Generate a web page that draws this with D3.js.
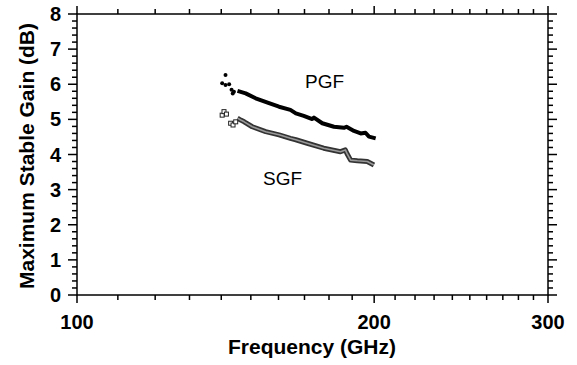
<!DOCTYPE html>
<html>
<head>
<meta charset="utf-8">
<script src="https://cdn.jsdelivr.net/npm/d3@7"></script>
<style>
  body { margin: 0; background: #fff; }
  svg { display: block; font-family: "Liberation Sans", Arial, sans-serif; }
  .tick-label { font-size: 20px; font-weight: bold; }
  .axis-title { font-size: 21px; font-weight: bold; }
  .series-label { font-size: 19px; }
</style>
</head>
<body>
<div id="chart"></div>
<script>
// frequency (GHz), maximum stable gain (dB)
var pgfScatter = [[140.3, 6.03], [141.4, 5.98], [141.4, 6.26], [142.6, 6.00],
                  [143.4, 5.84], [144.2, 5.79], [143.8, 5.74]];
var pgfTrace = [[145.4, 5.81], [148.2, 5.74], [151.7, 5.60], [156.5, 5.46],
                [160.2, 5.36], [164.5, 5.27], [166.6, 5.17], [169.7, 5.10],
                [173.1, 5.01], [173.8, 5.05], [177.2, 4.89], [182.1, 4.79],
                [186.4, 4.76], [187.5, 4.79], [190.8, 4.67], [193.8, 4.60],
                [196.0, 4.62], [197.6, 4.51], [200.7, 4.46]];
var sgfScatter = [[140.3, 5.12], [140.9, 5.22], [141.7, 5.15], [143.1, 4.89],
                  [143.9, 4.84], [144.8, 4.93]];
var sgfTrace = [[145.4, 5.03], [146.5, 4.98], [147.7, 4.93], [150.5, 4.79],
                [155.3, 4.65], [160.2, 4.56], [164.5, 4.46], [166.6, 4.42],
                [171.1, 4.32], [177.8, 4.18], [184.9, 4.08], [187.0, 4.13],
                [187.7, 4.03], [189.3, 3.84], [192.3, 3.82], [196.8, 3.80],
                [199.9, 3.70]];

var xMajor = [100, 200, 300];
var xMinor = d3.range(110, 300, 10).filter(function(v) { return v !== 200; });
var yMajor = d3.range(0, 9, 1);
var yMinor = d3.range(0, 8.01, 0.2).filter(function(v) { return Math.abs(v - Math.round(v)) > 0.01; });

var width = 577, height = 365;
var plotL = 77, plotR = 548, plotT = 14, plotB = 295;

var svg = d3.select("#chart").append("svg")
    .attr("width", width)
    .attr("height", height);

var x = d3.scaleLog().domain([100, 300]).range([plotL, plotR]);
var y = d3.scaleLinear().domain([0, 8]).range([plotB, plotT]);

// frame
svg.append("rect")
    .attr("x", plotL).attr("y", plotT)
    .attr("width", plotR - plotL).attr("height", plotB - plotT)
    .attr("fill", "none").attr("stroke", "#000").attr("stroke-width", 1.5);

// ticks on all four sides, pointing outward
function xTicks(vals, len) {
    svg.selectAll(null).data(vals).enter().append("line")
        .attr("x1", function(d) { return x(d); }).attr("x2", function(d) { return x(d); })
        .attr("y1", plotB).attr("y2", plotB + len)
        .attr("stroke", "#000").attr("stroke-width", 1.5);
    svg.selectAll(null).data(vals).enter().append("line")
        .attr("x1", function(d) { return x(d); }).attr("x2", function(d) { return x(d); })
        .attr("y1", plotT).attr("y2", plotT - len)
        .attr("stroke", "#000").attr("stroke-width", 1.5);
}
function yTicks(vals, len) {
    svg.selectAll(null).data(vals).enter().append("line")
        .attr("y1", function(d) { return y(d); }).attr("y2", function(d) { return y(d); })
        .attr("x1", plotL).attr("x2", plotL - len)
        .attr("stroke", "#000").attr("stroke-width", 1.5);
    svg.selectAll(null).data(vals).enter().append("line")
        .attr("y1", function(d) { return y(d); }).attr("y2", function(d) { return y(d); })
        .attr("x1", plotR).attr("x2", plotR + len)
        .attr("stroke", "#000").attr("stroke-width", 1.5);
}
xTicks(xMajor, 8);
xTicks(xMinor, 5);
yTicks(yMajor, 9);
yTicks(yMinor, 5);

// tick labels
svg.selectAll(null).data(xMajor).enter().append("text")
    .attr("class", "tick-label")
    .attr("x", function(d) { return x(d); })
    .attr("y", 329)
    .attr("text-anchor", "middle")
    .text(function(d) { return d; });

svg.selectAll(null).data(yMajor).enter().append("text")
    .attr("class", "tick-label")
    .attr("x", 61)
    .attr("y", function(d) { return y(d) + 7; })
    .attr("text-anchor", "end")
    .text(function(d) { return d; });

// axis titles
svg.append("text").attr("class", "axis-title")
    .attr("x", 312).attr("y", 354)
    .attr("text-anchor", "middle")
    .text("Frequency (GHz)");

svg.append("text").attr("class", "axis-title")
    .attr("transform", "translate(34,156) rotate(-90)")
    .attr("text-anchor", "middle")
    .text("Maximum Stable Gain (dB)");

var line = d3.line()
    .x(function(d) { return x(d[0]); })
    .y(function(d) { return y(d[1]); });

// SGF: band of open squares
svg.append("path").datum(sgfTrace)
    .attr("d", line).attr("fill", "none")
    .attr("stroke", "#333").attr("stroke-width", 5)
    .attr("stroke-linejoin", "round");
svg.append("path").datum(sgfTrace)
    .attr("d", line).attr("fill", "none")
    .attr("stroke", "#999").attr("stroke-width", 1.6)
    .attr("stroke-linejoin", "round");
svg.selectAll(null).data(sgfScatter).enter().append("rect")
    .attr("x", function(d) { return x(d[0]) - 2; })
    .attr("y", function(d) { return y(d[1]) - 2; })
    .attr("width", 4).attr("height", 4)
    .attr("fill", "#fff").attr("stroke", "#222").attr("stroke-width", 1);

// PGF: dense filled markers
svg.append("path").datum(pgfTrace)
    .attr("d", line).attr("fill", "none")
    .attr("stroke", "#000").attr("stroke-width", 4)
    .attr("stroke-linejoin", "round");
svg.selectAll(null).data(pgfScatter).enter().append("circle")
    .attr("cx", function(d) { return x(d[0]); })
    .attr("cy", function(d) { return y(d[1]); })
    .attr("r", 2)
    .attr("fill", "#000");

// series labels
svg.append("text").attr("class", "series-label")
    .attr("x", 305).attr("y", 88).text("PGF");
svg.append("text").attr("class", "series-label")
    .attr("x", 263).attr("y", 185).text("SGF");
</script>
</body>
</html>
